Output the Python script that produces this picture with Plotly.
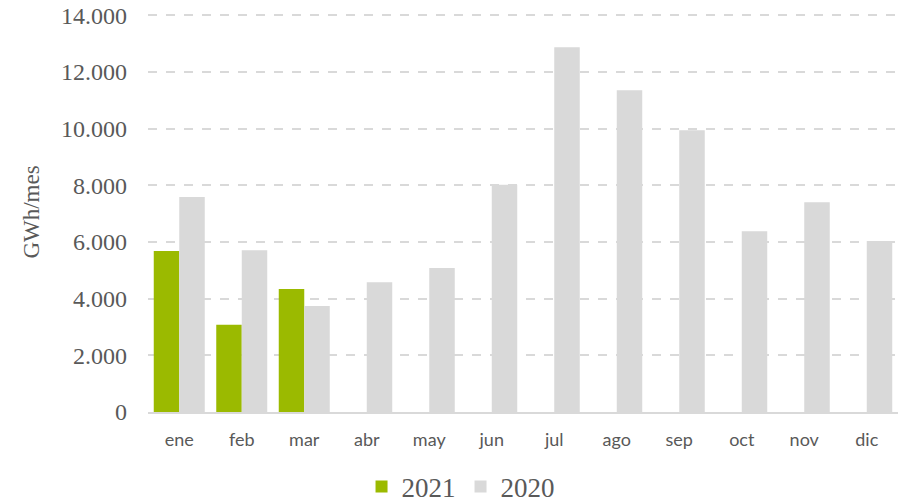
import plotly.graph_objects as go

months = ["ene", "feb", "mar", "abr", "may", "jun", "jul", "ago", "sep", "oct", "nov", "dic"]
vals_2021 = [5680, 3080, 4340, None, None, None, None, None, None, None, None, None]
vals_2020 = [7580, 5710, 3740, 4580, 5080, 8020, 12870, 11350, 9940, 6380, 7400, 6030]
y_ticks = [0, 2000, 4000, 6000, 8000, 10000, 12000, 14000]

GREEN = "#9BBA00"
GRAY = "#D9D9D9"
TXT = "#595959"

fig = go.Figure()
fig.add_trace(go.Bar(name="2021", x=months, y=vals_2021, marker=dict(color=GREEN, line=dict(width=0))))
fig.add_trace(go.Bar(name="2020", x=months, y=vals_2020, marker=dict(color=GRAY, line=dict(width=0))))

fig.update_layout(
    width=898, height=502,
    margin=dict(l=148, r=0, t=12, b=90),
    paper_bgcolor="white", plot_bgcolor="white",
    barmode="group", bargap=0.184, bargroupgap=0,
    separators=",.",
    showlegend=True,
    legend=dict(orientation="h", xref="container", yref="container",
                x=0.4026, xanchor="left", y=0.03, yanchor="middle",
                font=dict(family="Liberation Serif", size=27, color=TXT),
                traceorder="normal", itemclick=False),
    xaxis=dict(
        showgrid=False, showline=True, linecolor=GRAY, linewidth=1.5,
        tickfont=dict(family="Lato", size=18, color=TXT),
        ticks="", ticklabelstandoff=11,
    ),
    yaxis=dict(
        range=[0, 14110], tickvals=y_ticks, tickformat=",d",
        showgrid=True, gridcolor=GRAY, griddash="dash", gridwidth=1.5,
        zeroline=False, showline=False,
        tickfont=dict(family="Liberation Serif", size=24, color=TXT),
        ticklabelstandoff=20,
        title=dict(text="GWh/mes", font=dict(family="Liberation Serif", size=23, color=TXT), standoff=14),
        automargin=False,
    ),
)

fig.write_html("out.html", config={"displayModeBar": False},
               post_script="document.body.style.margin='0';")
